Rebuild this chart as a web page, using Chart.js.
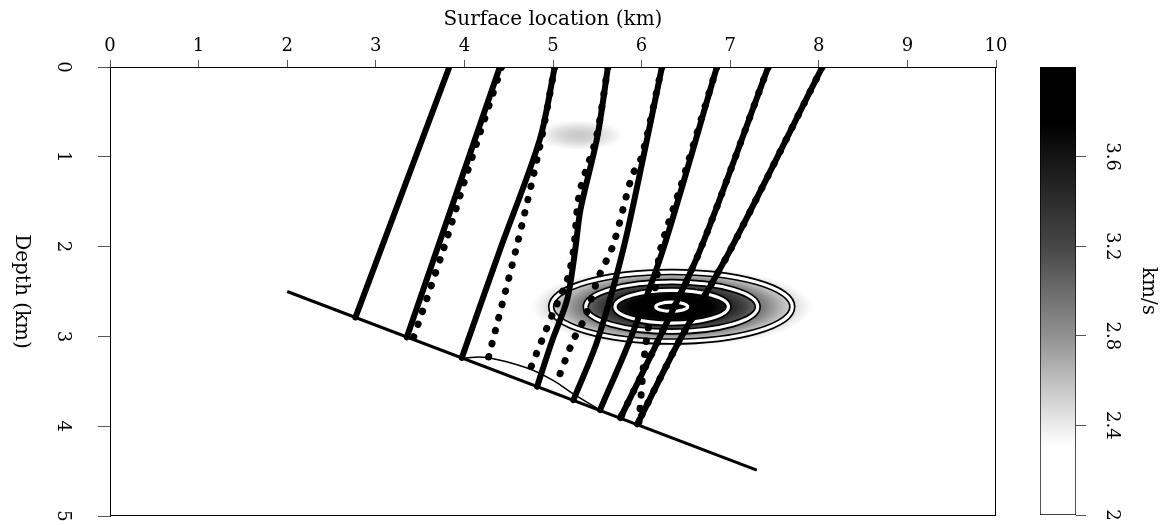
<!DOCTYPE html>
<html>
<head>
<meta charset="utf-8">
<script src="https://cdn.jsdelivr.net/npm/chart.js@4.4.1/dist/chart.umd.min.js"></script>
<style>
html,body{margin:0;padding:0;background:#fff}
#wrap{position:relative;width:1164px;height:525px}
#main{position:absolute;left:0;top:0}
#bar{position:absolute;left:1000px;top:0}
</style>
</head>
<body>
<div id="wrap">
<canvas id="main" width="1164" height="525"></canvas>
<canvas id="bar" width="164" height="525"></canvas>
</div>
<script>
// velocity model: constant background plus two gaussian anomalies
const vBackground = 2.0
const blobX  = [5.30, 6.34]
const blobZ  = [0.76, 2.67]
const blobSx = [0.45, 0.81]
const blobSz = [0.15, 0.23]
const blobDv = [0.55, 2.05]

// velocity contours drawn over the deep anomaly
const contourLevels = [2.5, 3.0, 3.5, 4.0]

// gray colour map
const cmapVel  = [2.0, 2.3, 2.4, 2.8, 3.2, 3.6, 3.75, 4.0]
const cmapGray = [255, 255, 236, 145, 70, 20, 0, 0]
const cbarTicks = [2, 2.4, 2.8, 3.2, 3.6]

// dipping reflector and its shifted image
const reflector = [[2.0, 2.5], [7.3, 4.49]]
const reflectorImage = [[3.97, 3.24], [4.25, 3.235], [4.70, 3.35], [5.0, 3.49], [5.23, 3.64], [5.53, 3.82]]

// rays (x km, depth km), solid
const rayA = [[3.83, 0], [2.77, 2.79]]
const rayB = [[4.40, 0], [3.35, 3.01]]
const rayC = [[5.02, 0], [4.85, 0.81], [4.40, 2.04], [3.97, 3.24]]
const rayD = [[5.62, 0], [5.50, 0.78], [5.31, 1.59], [5.25, 2.04], [5.16, 2.59], [4.99, 3.05], [4.82, 3.56]]
const rayE = [[6.23, 0], [6.02, 1.0], [5.79, 2.04], [5.50, 3.05], [5.23, 3.71]]
const rayF = [[6.85, 0], [6.24, 2.04], [5.86, 3.06], [5.53, 3.82]]
const rayG = [[7.43, 0], [6.66, 2.04], [6.18, 3.06], [5.76, 3.91]]
const rayH = [[8.04, 0], [7.00, 2.04], [6.42, 3.06], [5.95, 3.98]]

// rays, dotted
const dotB = [[4.42, 0], [4.04, 1.15], [3.76, 2.04], [3.42, 3.03]]
const dotC = [[5.02, 0], [4.85, 0.89], [4.59, 2.0], [4.27, 3.24]]
const dotD = [[5.62, 0], [5.49, 0.78], [5.30, 1.40], [5.23, 2.05], [5.16, 2.37], [5.0, 2.74], [4.74, 3.37]]
const dotE = [[6.23, 0], [6.0, 1.0], [5.89, 1.22], [5.68, 1.98], [5.51, 2.35], [5.36, 2.79], [5.23, 3.04], [5.05, 3.49]]
const dotF = [[6.85, 0], [6.45, 1.3], [6.21, 2.04], [6.17, 2.35], [6.04, 3.15], [5.97, 3.96]]
const dotG = [[7.43, 0], [6.66, 2.04], [6.18, 3.06], [5.76, 3.91]]
const dotH = [[8.04, 0], [7.00, 2.04], [6.42, 3.06], [5.95, 3.98]]

const solidRays = [rayA, rayB, rayC, rayD, rayE, rayF, rayG, rayH]
const dottedRays = [dotB, dotC, dotD, dotE, dotF, dotG, dotH]

const fontFamily = "'DejaVu Serif', serif"

function grayOf(v){
if(v <= cmapVel[0]) return cmapGray[0]
for(let i=1;i<cmapVel.length;i++){
if(v <= cmapVel[i]){
let t = (v-cmapVel[i-1])/(cmapVel[i]-cmapVel[i-1])
return Math.round(cmapGray[i-1] + t*(cmapGray[i]-cmapGray[i-1]))
}
}
return cmapGray[cmapGray.length-1]
}

function toPoints(arr){
return arr.map(p=>({x:p[0], y:p[1]}))
}

const fieldPlugin = {
id:"velocityField",
beforeDatasetsDraw(chart){
const {ctx, chartArea:a, scales:{x, y}} = chart
const w = Math.round(a.right-a.left), h = Math.round(a.bottom-a.top)
const img = ctx.createImageData(w, h)
for(let j=0;j<h;j++){
const z = y.getValueForPixel(a.top+j+0.5)
for(let i=0;i<w;i++){
const xv = x.getValueForPixel(a.left+i+0.5)
let v = vBackground
for(let k=0;k<blobX.length;k++){
const dx = (xv-blobX[k])/blobSx[k], dz = (z-blobZ[k])/blobSz[k]
v += blobDv[k]*Math.exp(-0.5*(dx*dx+dz*dz))
}
const g = grayOf(v)
const p = (j*w+i)*4
img.data[p]=g; img.data[p+1]=g; img.data[p+2]=g; img.data[p+3]=255
}
}
ctx.putImageData(img, Math.round(a.left), Math.round(a.top))

// contours of the deep anomaly: black outline with white core
const k = blobX.length-1
const cx = x.getPixelForValue(blobX[k]), cy = y.getPixelForValue(blobZ[k])
ctx.save()
contourLevels.forEach(level=>{
const ratio = (level-vBackground)/blobDv[k]
if(ratio >= 1) return
const r = Math.sqrt(-2*Math.log(ratio))
const px = x.getPixelForValue(blobX[k]+r*blobSx[k])-cx
const py = y.getPixelForValue(blobZ[k]+r*blobSz[k])-cy
ctx.beginPath()
ctx.ellipse(cx, cy, px, py, 0, 0, Math.PI*2)
ctx.strokeStyle="#000"; ctx.lineWidth=6.5; ctx.stroke()
ctx.strokeStyle="#fff"; ctx.lineWidth=3.2; ctx.stroke()
})
ctx.restore()
},
afterDraw(chart){
const {ctx, chartArea:a} = chart
ctx.save()
ctx.strokeStyle="#000"
ctx.lineWidth=1
ctx.strokeRect(a.left+0.5, a.top+0.5, a.right-a.left-1, a.bottom-a.top-1)
// vertical axis title, reading downwards
ctx.translate(21, (a.top+a.bottom)/2)
ctx.rotate(Math.PI/2)
ctx.font="20px "+fontFamily
ctx.fillStyle="#000"
ctx.textAlign="center"
ctx.textBaseline="middle"
ctx.fillText("Depth (km)", 0, 0)
ctx.restore()
}
}

let datasets = []

solidRays.forEach(r=>{
datasets.push({
data:toPoints(r),
showLine:true,
borderColor:"#000",
borderWidth:6,
pointRadius:0,
tension:0.3,
borderCapStyle:"round"
})
})

dottedRays.forEach(r=>{
datasets.push({
data:toPoints(r),
showLine:true,
borderColor:"#000",
borderWidth:7,
borderDash:[0.5,13],
borderCapStyle:"round",
pointRadius:0,
tension:0.3
})
})

datasets.push({
data:toPoints(reflector),
showLine:true,
borderColor:"#000",
borderWidth:3,
pointRadius:0
})

datasets.push({
data:toPoints(reflectorImage),
showLine:true,
borderColor:"#000",
borderWidth:1.5,
pointRadius:0,
tension:0.4
})

const tickFont = {family:fontFamily, size:18}

new Chart(document.getElementById("main"),{
type:"scatter",
data:{datasets:datasets},
options:{
responsive:false,
animation:false,
layout:{padding:{left:0, top:0, right:168, bottom:9}},
plugins:{legend:{display:false}, tooltip:{enabled:false}},
scales:{
x:{
type:"linear",
position:"top",
min:0,
max:10,
afterFit:s=>{ s.height=67; s.paddingLeft=0; s.paddingRight=0 },
ticks:{stepSize:1, font:tickFont, color:"#000", padding:3, maxRotation:0},
grid:{drawOnChartArea:false, tickLength:7, color:"#555"},
border:{color:"#000"},
title:{display:true, text:"Surface location (km)", font:{family:fontFamily, size:20}, color:"#000", padding:{top:8, bottom:0}}
},
y:{
type:"linear",
position:"left",
min:0,
max:5,
reverse:true,
afterFit:s=>{ s.width=110; s.paddingTop=0; s.paddingBottom=0 },
ticks:{stepSize:1, font:tickFont, color:"#000", padding:30, minRotation:-90, maxRotation:-90, crossAlign:"center"},
grid:{drawOnChartArea:false, tickLength:12, color:"#555"},
border:{color:"#000"}
}
}
},
plugins:[fieldPlugin]
})

// colour bar
new Chart(document.getElementById("bar"),{
type:"bar",
data:{
labels:["v"],
datasets:[{
data:[[cmapVel[0], cmapVel[cmapVel.length-1]]],
backgroundColor:c=>{
const ch = c.chart
const s = ch.scales.y
if(!ch.chartArea || !s) return "#888"
const lo = cmapVel[0], hi = cmapVel[cmapVel.length-1]
const g = ch.ctx.createLinearGradient(0, s.getPixelForValue(lo), 0, s.getPixelForValue(hi))
cmapVel.forEach((v,i)=>{
const c8 = cmapGray[i]
g.addColorStop((v-lo)/(hi-lo), "rgb("+c8+","+c8+","+c8+")")
})
return g
},
borderColor:"#000",
borderWidth:1,
borderSkipped:false,
barPercentage:1,
categoryPercentage:1
}]
},
options:{
responsive:false,
animation:false,
layout:{padding:{left:40, top:67, bottom:10, right:0}},
plugins:{legend:{display:false}, tooltip:{enabled:false}},
scales:{
x:{display:false},
y:{
position:"right",
min:2,
max:4,
afterBuildTicks:s=>{ s.ticks = cbarTicks.map(v=>({value:v})) },
afterFit:s=>{ s.width=88; s.paddingTop=0; s.paddingBottom=0 },
ticks:{font:tickFont, color:"#000", padding:11, minRotation:-90, maxRotation:-90, crossAlign:"center", callback:v=>String(v)},
grid:{drawOnChartArea:false, tickLength:10, color:"#555"},
border:{display:false},
title:{display:true, text:"km/s", font:{family:fontFamily, size:20}, color:"#000", padding:{top:4, bottom:0}}
}
}
}
})
</script>
</body>
</html>
